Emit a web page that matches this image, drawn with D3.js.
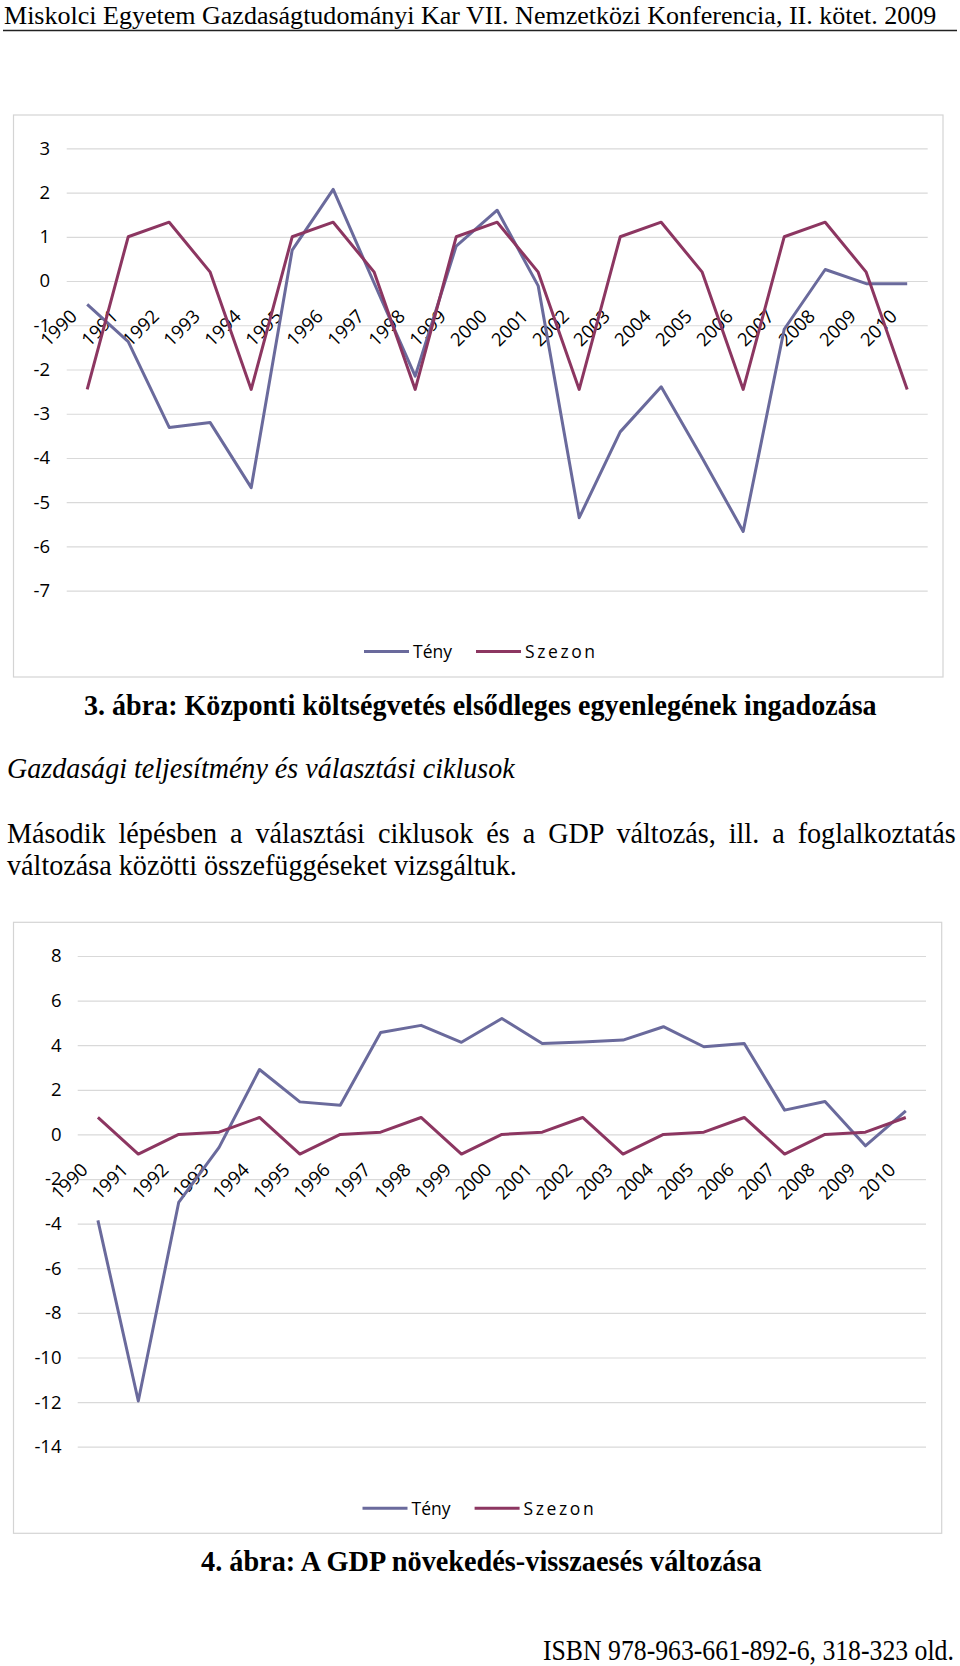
<!DOCTYPE html>
<html><head><meta charset="utf-8">
<script src="https://cdn.jsdelivr.net/npm/d3@7/dist/d3.min.js"></script>
<style>
body{margin:0;background:#fff}
svg{display:block}
.serif{font-family:"Liberation Serif","Times New Roman",serif;fill:#000}
</style>
</head><body>
<svg id="page" width="960" height="1666"></svg>
<script>
// ---------- data ----------
const years = ["1990","1991","1992","1993","1994","1995","1996","1997","1998","1999","2000",
               "2001","2002","2003","2004","2005","2006","2007","2008","2009","2010"];
const seriesNames = ["Tény","Szezon"];
// Figure 3: primary balance of central budget
const balanceTeny   = [-0.53,-1.37,-3.31,-3.20,-4.67,0.70,2.07,-0.05,-2.15,0.79,1.60,-0.11,-5.35,-3.41,-2.39,-4.00,-5.66,-1.09,0.26,-0.06,-0.06];
const balanceSzezon = [-2.45,1.00,1.33,0.20,-2.45,1.00,1.33,0.20,-2.45,1.00,1.33,0.20,-2.45,1.00,1.33,0.20,-2.45,1.00,1.33,0.20,-2.45];
const balanceTicks  = [3,2,1,0,-1,-2,-3,-4,-5,-6,-7];
// Figure 4: GDP growth
const gdpTeny   = [-3.85,-11.95,-3.05,-0.58,2.91,1.46,1.31,4.57,4.89,4.13,5.20,4.08,4.14,4.23,4.83,3.93,4.08,1.09,1.48,-0.51,1.06];
const gdpSzezon = [0.76,-0.88,0.00,0.10,0.76,-0.88,0.00,0.10,0.76,-0.88,0.00,0.10,0.76,-0.88,0.00,0.10,0.76,-0.88,0.00,0.10,0.76];
const gdpTicks  = [8,6,4,2,0,-2,-4,-6,-8,-10,-12,-14];

const colors = {"Tény":"#6a6a9c","Szezon":"#8c3661"};
const sansFont = "'Open Sans','Noto Sans',sans-serif";
const svg = d3.select("#page");

// ---------- serif page text ----------
function fitText(x, y, str, width, size, weight, style){
  const t = svg.append("text").attr("class","serif")
    .attr("font-size",size).attr("font-weight",weight||"normal").attr("font-style",style||"normal")
    .text(str);
  const w = t.node().getComputedTextLength();
  const k = width / w;
  t.attr("transform",`translate(${x},${y}) scale(${k},1)`);
  return k;
}
fitText(4, 23.5, "Miskolci Egyetem Gazdaságtudományi Kar VII. Nemzetközi Konferencia, II. kötet. 2009", 933, 26);
svg.append("line").attr("x1",3).attr("x2",957).attr("y1",30.5).attr("y2",30.5)
   .attr("stroke","#222").attr("stroke-width",1.3);

fitText(84, 714.5, "3. ábra: Központi költségvetés elsődleges egyenlegének ingadozása", 793, 29.5, "bold");
fitText(7, 778, "Gazdasági teljesítmény és választási ciklusok", 508, 29.5, "normal", "italic");
const k2 = fitText(7, 875, "változása közötti összefüggéseket vizsgáltuk.", 510, 29.5);
(function(){
  const str = "Második lépésben a választási ciklusok és a GDP változás, ill. a foglalkoztatás";
  const t = svg.append("text").attr("class","serif").attr("font-size",29.5).text(str);
  const w = t.node().getComputedTextLength();
  const n = str.split(" ").length - 1;
  const ws = (949 / k2 - w) / n;
  t.attr("word-spacing", ws).attr("transform",`translate(7,842.5) scale(${k2},1)`);
})();
fitText(201, 1570.5, "4. ábra: A GDP növekedés-visszaesés változása", 561, 29.5, "bold");
fitText(543, 1660, "ISBN 978-963-661-892-6, 318-323 old.", 411, 29.5);

// ---------- chart ----------
function drawChart(cfg){
  const g = svg.append("g");
  g.append("rect").attr("x",cfg.box[0]).attr("y",cfg.box[1])
    .attr("width",cfg.box[2]-cfg.box[0]).attr("height",cfg.box[3]-cfg.box[1])
    .attr("fill","#fff").attr("stroke","#d4d4d4").attr("stroke-width",1.2);

  const x = d3.scaleBand().domain(years).range([cfg.x0, cfg.x1]).padding(0);
  const y = d3.scaleLinear().domain(cfg.yDomain).range(cfg.yRange);
  const cx = d => x(d) + x.bandwidth()/2;

  const ya = g.append("g").attr("transform",`translate(${cfg.x0},0)`)
    .call(d3.axisLeft(y).tickValues(cfg.ticks).tickSize(-(cfg.x1-cfg.x0))
          .tickPadding(cfg.x0 - cfg.labelRight).tickFormat(d => String(d)));
  ya.select(".domain").remove();
  ya.selectAll(".tick line").attr("stroke","#d9d9d9").attr("stroke-width",1.2);
  ya.selectAll(".tick text").attr("font-size",18.5)
    .attr("font-family",sansFont).attr("fill","#000");

  const xa = g.append("g").attr("transform",`translate(0,${y(0)})`)
    .call(d3.axisBottom(x).tickSize(0));
  xa.select(".domain").remove();
  xa.selectAll(".tick text")
    .attr("font-family",sansFont).attr("font-size",18.5).attr("fill","#000")
    .attr("x",0).attr("y",0).attr("dy",0)
    .attr("text-anchor","end")
    .attr("transform","translate(-9,36.5) rotate(-45)");

  const line = d3.line().x((d,i)=>cx(years[i])).y(d=>y(d));
  [["Tény",cfg.teny],["Szezon",cfg.szezon]].forEach(([name,vals])=>{
    g.append("path").datum(vals).attr("d",line).attr("fill","none")
      .attr("stroke",colors[name]).attr("stroke-width",3).attr("stroke-linejoin","round");
  });

  // legend
  const lg = g.append("g").attr("transform",`translate(0,${cfg.legendY})`);
  const items = [{name:seriesNames[0], lx:cfg.legX[0], ls:0},{name:seriesNames[1], lx:cfg.legX[1], ls:2.6}];
  items.forEach(it=>{
    lg.append("line").attr("x1",it.lx).attr("x2",it.lx+45).attr("y1",0).attr("y2",0)
      .attr("stroke",colors[it.name]).attr("stroke-width",3);
    lg.append("text").attr("x",it.lx+49).attr("y",0).attr("dy","0.36em")
      .attr("font-family",sansFont).attr("font-size",17.5)
      .attr("letter-spacing",it.ls).attr("fill","#000").text(it.name);
  });
}

drawChart({box:[13.5,115,943,677], x0:66.7, x1:927.7, yDomain:[-7,3], yRange:[590.7,148.3],
  ticks:balanceTicks, labelRight:50, teny:balanceTeny, szezon:balanceSzezon,
  legendY:651.5, legX:[364,476]});
drawChart({box:[13.5,922.3,941.7,1533.3], x0:77.7, x1:926, yDomain:[-14,8], yRange:[1446.7,956],
  ticks:gdpTicks, labelRight:61.5, teny:gdpTeny, szezon:gdpSzezon,
  legendY:1508.3, legX:[362.5,474.6]});
</script>
</body></html>
